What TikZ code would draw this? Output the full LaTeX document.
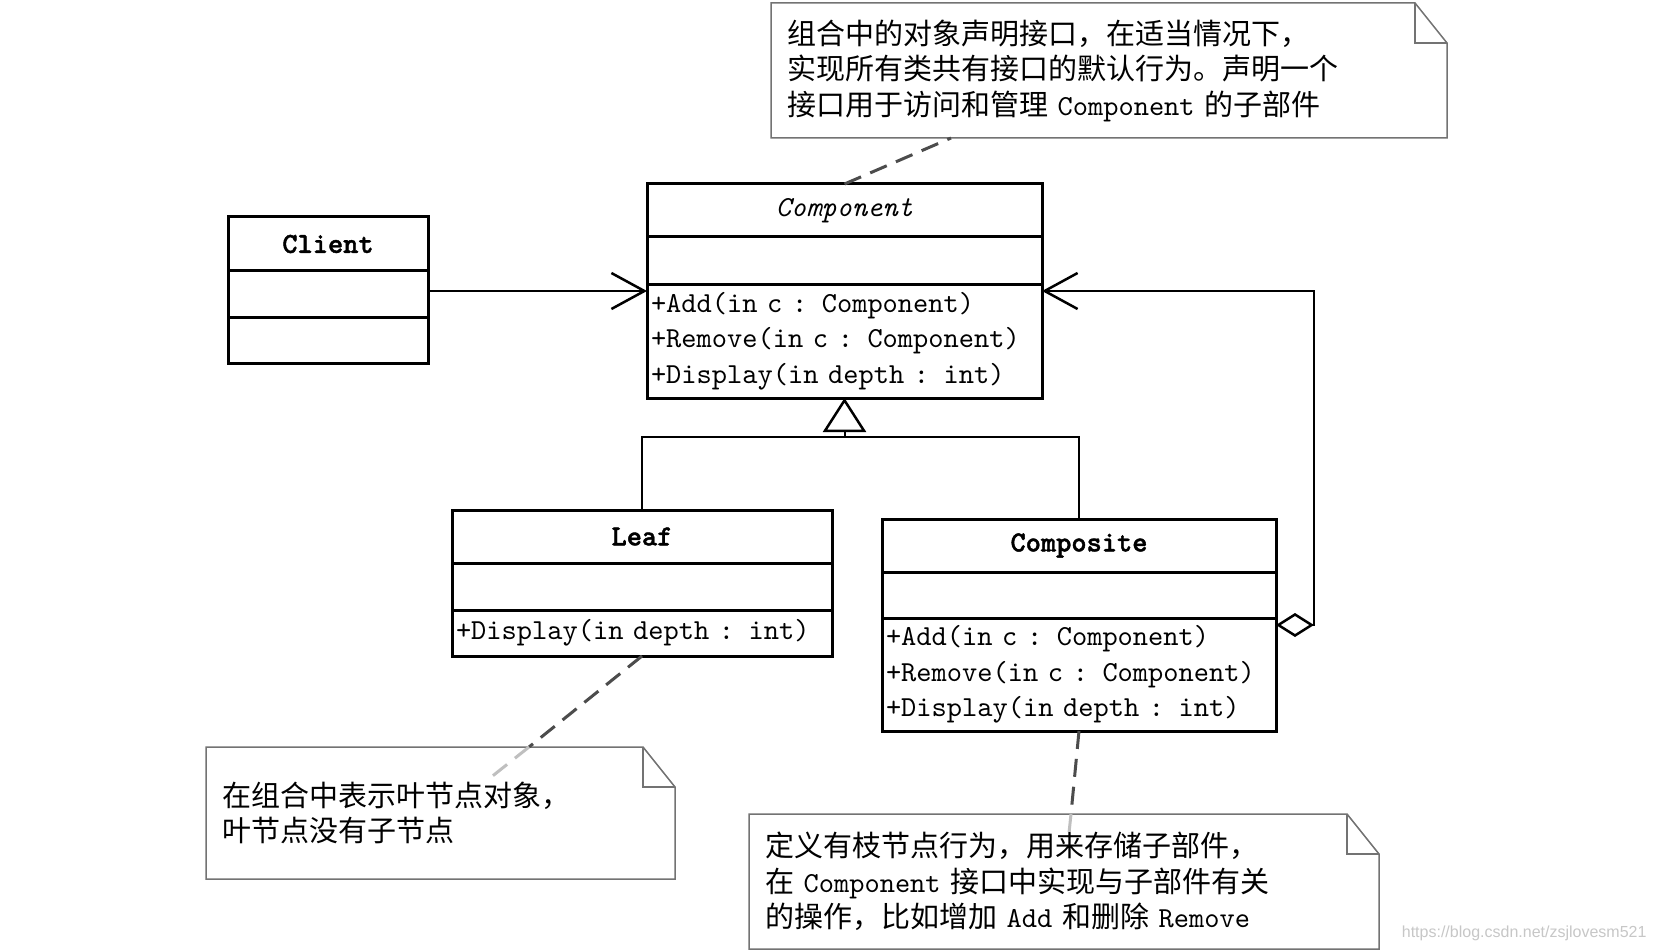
\documentclass[tikz,border=0pt]{standalone}
\usepackage{fontspec}
\setmainfont{Noto Sans CJK SC}
\newfontfamily\uml{lmmono10-regular.otf}[ItalicFont=lmmono10-italic.otf, BoldFont=lmmonolt10-bold.otf, BoldFeatures={FakeBold=1.5}]
\newfontfamily\wmfont{Liberation Sans}
\usetikzlibrary{calc,arrows.meta}

\tikzset{
    part/.style={draw, line width=3pt, inner sep=0pt, outer sep=0pt, font=\fontsize{29}{35.5}\selectfont\uml},
    ops/.style={part, align=left, inner xsep=4pt, text width=#1},
    note/.style={inner xsep=16pt, inner ysep=0pt, outer sep=0pt, align=left, text width=#1, anchor=north west, font=\fontsize{29}{35.5}\selectfont},
    notebox/.style={draw=black!55, line width=1.5pt},
    dashline/.style={draw=black!70, line width=3pt, dash pattern=on 18pt off 10pt},
    fadeline/.style={dashline, draw=black!25},
    assoc/.style={line width=2pt, -{Straight Barb[length=33pt, width=36pt, line width=2.5pt]}},
    agg/.style={line width=2pt, {Diamond[open, length=38pt, width=24pt, line width=2.5pt]}-{Straight Barb[length=33pt, width=36pt, line width=2.5pt]}},
    inh/.style={line width=2pt, -{Triangle[open, length=34pt, width=43pt, line width=2.5pt]}}
}

\begin{document}
\begin{tikzpicture}[x=1pt, y=1pt, font=\fontsize{29}{35.5}\selectfont]
            \fill[white] (0,0) rectangle (1655,-952);
            \useasboundingbox (0,0) rectangle (1655,-952);

            \node[part, minimum width=200pt, minimum height=54pt, anchor=north west] (client) at (228,-217) {\bfseries Client};
            \node[part, minimum width=200pt, minimum height=46pt, anchor=north] (client-a) at (client.south) {};
            \node[part, minimum width=200pt, minimum height=46pt, anchor=north] (client-o) at (client-a.south) {};

            \node[part, minimum width=395pt, minimum height=53pt, anchor=north west] (comp) at (647,-184) {\itshape Component};
            \node[part, minimum width=395pt, minimum height=47pt, anchor=north] (comp-a) at (comp.south) {};
            \node[ops=387pt, minimum height=114pt, anchor=north] (comp-o) at (comp-a.south)
                {+Add(in c : Component)\\+Remove(in c : Component)\\+Display(in depth : int)};

            \node[part, minimum width=380pt, minimum height=53pt, anchor=north west] (leaf) at (452,-510) {\bfseries Leaf};
            \node[part, minimum width=380pt, minimum height=47pt, anchor=north] (leaf-a) at (leaf.south) {};
            \node[ops=372pt, minimum height=46pt, anchor=north] (leaf-o) at (leaf-a.south) {+Display(in depth : int)};

            \node[part, minimum width=394pt, minimum height=53pt, anchor=north west] (compo) at (882,-519) {\bfseries Composite};
            \node[part, minimum width=394pt, minimum height=46pt, anchor=north] (compo-a) at (compo.south) {};
            \node[ops=386pt, minimum height=113pt, anchor=north] (compo-o) at (compo-a.south)
                {+Add(in c : Component)\\+Remove(in c : Component)\\+Display(in depth : int)};

            \node[note=644pt, minimum height=135pt] (note-comp) at (771,-3)
                {组合中的对象声明接口，在适当情况下，\\实现所有类共有接口的默认行为。声明一个\\接口用于访问和管理{\uml\ Component }的子部件};
            \node[note=437pt, minimum height=132pt] (note-leaf) at (206,-747)
                {在组合中表示叶节点对象，\\叶节点没有子节点};
            \node[note=598pt, minimum height=135pt] (note-compo) at (749,-814)
                {定义有枝节点行为，用来存储子部件，\\在{\uml\ Component }接口中实现与子部件有关\\的操作，比如增加{\uml\ Add }和删除{\uml\ Remove}};

            \foreach \n in {note-comp, note-leaf, note-compo}
                {
                    \draw[notebox] (\n.north west) -- ($(\n.north east)+(-32,0)$) -- ($(\n.north east)+(0,-40)$)
                        -- (\n.south east) -- (\n.south west) -- cycle;
                    \draw[notebox] ($(\n.north east)+(-32,0)$) |- ($(\n.north east)+(0,-40)$);
                }

                \coordinate (cin) at ($(comp-o.north west)+(0,-7)$);
                \coordinate (cout) at ($(comp-o.north east)+(0,-7)$);
                \coordinate (dia) at ($(compo-o.north east)+(0,-7)$);
                \coordinate (jn) at ($(comp-o.south)+(0,-39)$);

                \draw[assoc] (client-a.east |- cin) -- (cin);
                \draw[agg] (dia) -- ++(38,0) |- (cout);
                \draw[line width=2pt] (leaf.north) |- (jn) -| (compo.north);
                \draw[inh] (jn) -- (comp-o.south);

                \draw[dashline] (comp.north) -- ($(note-comp.south west)+(180,0)$);
                \draw[dashline] (leaf-o.south) -- ($(note-leaf.north west)+(323,0)$);
                \draw[fadeline] ($(note-leaf.north west)+(323,0)$) -- (490,-778);
                \draw[dashline] (compo-o.south) -- ($(note-compo.north west)+(322,0)$);
                \draw[fadeline] ($(note-compo.north west)+(322,0)$) -- (1069,-833);

                \node[font=\wmfont\fontsize{16}{16}\selectfont, text=black!22, anchor=east] (wm) at (1650,-933) {https://blog.csdn.net/zsjlovesm521};

        \end{tikzpicture}
\end{document}
